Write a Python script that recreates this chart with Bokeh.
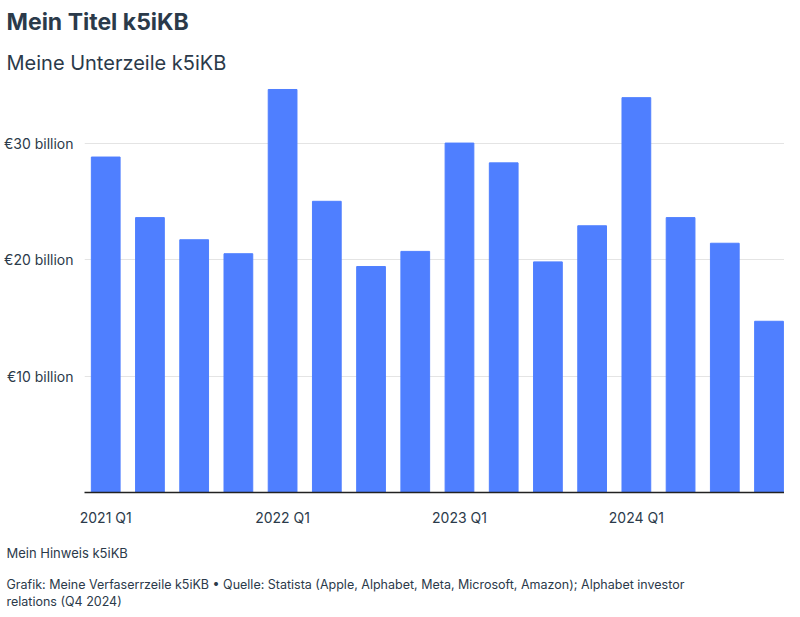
from bokeh.plotting import figure
from bokeh.models import FixedTicker, Title
from bokeh.embed import file_html
from bokeh.resources import INLINE

quarters = ["2021 Q1", "2021 Q2", "2021 Q3", "2021 Q4",
            "2022 Q1", "2022 Q2", "2022 Q3", "2022 Q4",
            "2023 Q1", "2023 Q2", "2023 Q3", "2023 Q4",
            "2024 Q1", "2024 Q2", "2024 Q3", "2024 Q4"]
values = [28.8, 23.6, 21.7, 20.5, 34.6, 25.0, 19.4, 20.7,
          30.0, 28.3, 19.8, 22.9, 33.9, 23.6, 21.4, 14.7]
y_ticks = [10, 20, 30]

FONT = "Inter"
TXT = "#2b3a4a"
OFF = -78

xs = list(range(len(quarters)))
p = figure(width=784, height=608, output_backend="svg", toolbar_location=None,
           x_range=(-0.48, 15.35), y_range=(0, 35.2),
           min_border_left=0, min_border_right=0, min_border_top=0, min_border_bottom=0)
p.vbar(x=xs, top=values, width=0.65, bottom=0, color="#4f7fff")

p.xaxis.ticker = FixedTicker(ticks=[0, 4, 8, 12])
p.xaxis.major_label_overrides = {i: quarters[i] for i in [0, 4, 8, 12]}
p.xaxis.major_tick_line_color = None
p.xaxis.minor_tick_line_color = None
p.xaxis.axis_line_color = "#222222"
p.xaxis.axis_line_width = 1.5
p.xaxis.major_label_standoff = 10
p.yaxis.ticker = FixedTicker(ticks=y_ticks)
p.yaxis.major_label_overrides = {t: "€%d billion" % t for t in y_ticks}
p.yaxis.axis_line_color = None
p.yaxis.major_tick_line_color = None
p.yaxis.minor_tick_line_color = None
for ax in (p.xaxis, p.yaxis):
    ax.major_label_text_font = FONT
    ax.major_label_text_font_size = "14px"
    ax.major_label_text_color = TXT
p.xgrid.grid_line_color = None
p.ygrid.grid_line_color = "#e4e4e4"
p.outline_line_color = None

p.add_layout(Title(text="Meine Unterzeile k5iKB", text_font=FONT, text_font_size="20px",
                   text_font_style="normal", text_color=TXT, standoff=16, offset=OFF), "above")
p.add_layout(Title(text="Mein Titel k5iKB", text_font=FONT, text_font_size="23px",
                   text_font_style="bold", text_color=TXT, offset=OFF), "above")
p.add_layout(Title(text="Mein Hinweis k5iKB", text_font=FONT, text_font_size="13px",
                   text_font_style="normal", text_color=TXT, standoff=28, offset=OFF), "below")
p.add_layout(Title(text="Grafik: Meine Verfaserrzeile k5iKB • Quelle: Statista (Apple, Alphabet, Meta, Microsoft, Amazon); Alphabet investor",
                   text_font=FONT, text_font_size="12.5px", text_font_style="normal", text_color=TXT,
                   standoff=0, offset=OFF), "below")
p.add_layout(Title(text="relations (Q4 2024)", text_font=FONT, text_font_size="12.5px",
                   text_font_style="normal", text_color=TXT, standoff=0, offset=OFF), "below")

open("out.html", "w").write(file_html(p, INLINE))
